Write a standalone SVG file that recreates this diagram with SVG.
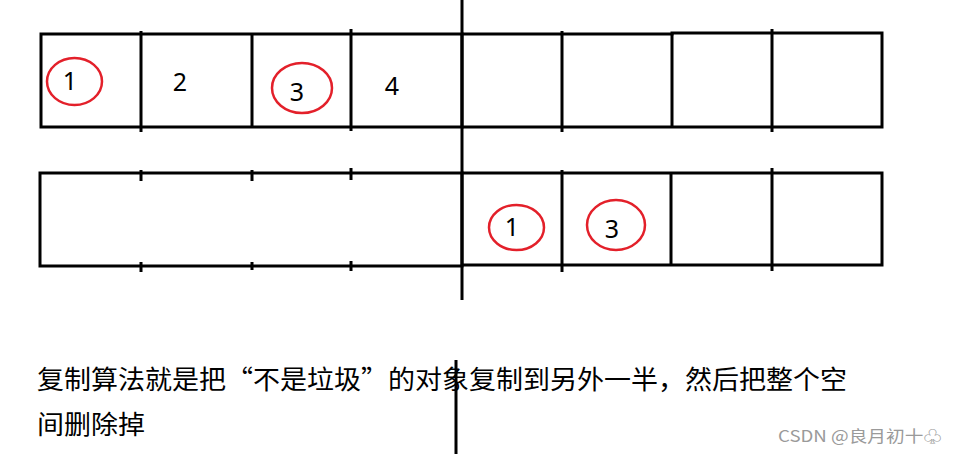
<svg xmlns="http://www.w3.org/2000/svg" width="957" height="454" viewBox="0 0 957 454">
<style>
.b{stroke:#000;stroke-width:3;fill:none}
.r{stroke:#e3202a;stroke-width:2.5;fill:none}
.d{font-family:"Noto Sans","Liberation Sans",sans-serif;font-size:25px;fill:#000;text-anchor:middle}
.t{font-family:"Noto Sans CJK SC","Noto Sans",sans-serif;font-size:26px;fill:#000}
.w{font-family:"Noto Sans CJK SC","Noto Sans",sans-serif;font-size:16px;fill:#9a9a9a}
</style>
<rect width="957" height="454" fill="#fff"/>
<g id="top-row">
<path class="b" d="M41,34 H462 V127 H41 Z"/>
<path class="b" d="M462,34 H672 L672,33 H882 V127 H462"/>
<path class="b" d="M141,31 V132 M252,33 V127 M351,29 V131 M562,31 V132 M672,33 V127 M772,29 V132"/>
</g>
<g id="bottom-row">
<path class="b" d="M40,173 H462 V266 H40 Z"/>
<path class="b" d="M462,173 H882 V265 H462"/>
<path class="b" d="M141,170 V181 M141,262 V272 M252,170 V181 M252,262 V270 M351,168 V180 M351,261 V271"/>
<path class="b" d="M562,170 V272 M671,172 V266 M772,168 V271"/>
</g>
<g id="dividers">
<path class="b" d="M462,0 V300"/>
<path class="b" d="M456,360 V454"/>
</g>
<g id="top-labels">
<text class="d" x="70" y="90">1</text>
<text class="d" x="180" y="91">2</text>
<text class="d" x="297" y="101">3</text>
<text class="d" x="392" y="95">4</text>
<ellipse class="r" cx="74.5" cy="81.5" rx="27.5" ry="23.5"/>
<ellipse class="r" cx="302" cy="88" rx="30" ry="25"/>
</g>
<g id="bottom-labels">
<text class="d" x="512" y="236">1</text>
<text class="d" x="612" y="238">3</text>
<ellipse class="r" cx="516.5" cy="227.5" rx="27.5" ry="22.5"/>
<ellipse class="r" cx="616" cy="225" rx="29" ry="25"/>
</g>
<g id="caption">
<text class="t" x="37" y="389" textLength="810" lengthAdjust="spacingAndGlyphs">复制算法就是把“不是垃圾”的对象复制到另外一半，然后把整个空</text>
<text class="t" x="37" y="434" textLength="108" lengthAdjust="spacingAndGlyphs">间删除掉</text>
<text class="w" x="778" y="442" textLength="164" lengthAdjust="spacingAndGlyphs">CSDN @良月初十♧</text>
</g>
</svg>
